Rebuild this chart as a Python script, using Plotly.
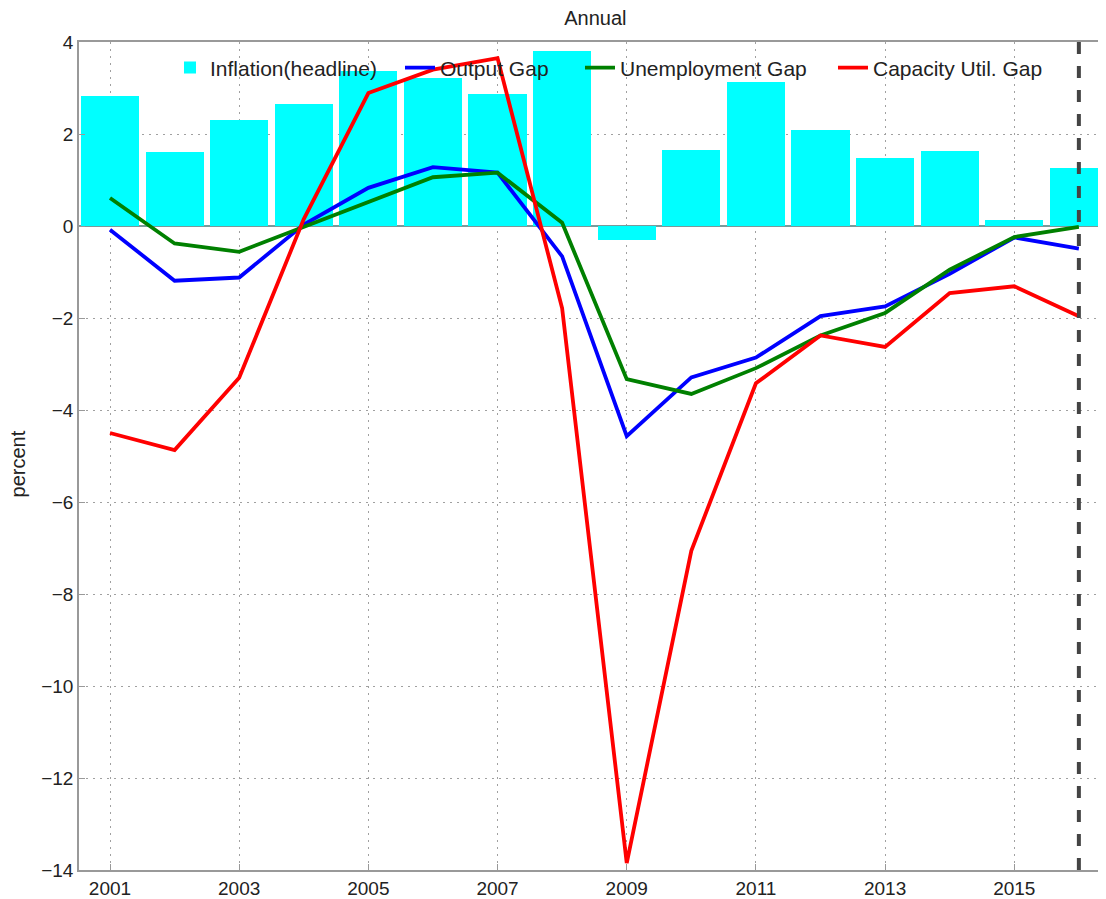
import plotly.graph_objects as go

years = list(range(2001, 2017))
inflation = [2.82, 1.61, 2.30, 2.66, 3.38, 3.22, 2.87, 3.81, -0.31, 1.65, 3.13, 2.08, 1.47, 1.62, 0.12, 1.27]
output_gap = [-0.08, -1.19, -1.12, 0.03, 0.83, 1.28, 1.16, -0.66, -4.57, -3.29, -2.86, -1.96, -1.75, -1.04, -0.25, -0.49]
unemp_gap = [0.61, -0.38, -0.56, -0.02, 0.51, 1.06, 1.16, 0.07, -3.33, -3.65, -3.09, -2.38, -1.89, -0.95, -0.24, -0.02]
capacity_gap = [-4.50, -4.87, -3.30, 0.15, 2.89, 3.40, 3.65, -1.79, -13.85, -7.06, -3.42, -2.38, -2.63, -1.46, -1.31, -1.96]
xticks = [2001, 2003, 2005, 2007, 2009, 2011, 2013, 2015]
yticks = [-14, -12, -10, -8, -6, -4, -2, 0, 2, 4]
ytick_labels = ["\u221214", "\u221212", "\u221210", "\u22128", "\u22126", "\u22124", "\u22122", "0", "2", "4"]
forecast_start = 2016

FONT = "Liberation Sans, Arial, sans-serif"
TXT = "#222222"

fig = go.Figure()
fig.add_trace(go.Bar(x=years, y=inflation, name="Inflation(headline)", width=0.9,
                     marker=dict(color="#00FFFF", line=dict(width=0)), legendwidth=185))
fig.add_trace(go.Scatter(x=years, y=output_gap, name="Output Gap", mode="lines",
                         line=dict(color="#0000FF", width=3.8), legendwidth=135))
fig.add_trace(go.Scatter(x=years, y=unemp_gap, name="Unemployment Gap", mode="lines",
                         line=dict(color="#008000", width=3.8), legendwidth=208))
fig.add_trace(go.Scatter(x=years, y=capacity_gap, name="Capacity Util. Gap", mode="lines",
                         line=dict(color="#FF0000", width=3.8), legendwidth=175))

fig.add_shape(type="line", x0=forecast_start, x1=forecast_start, y0=0, y1=1, yref="paper",
              line=dict(color="#444444", width=4, dash="dash"), layer="above")

fig.add_annotation(text="percent", textangle=-90, xref="paper", yref="paper",
                   x=-0.0594, y=0.491, xanchor="center", yanchor="middle", showarrow=False,
                   font=dict(size=20, family=FONT, color=TXT))

fig.update_layout(
    width=1098, height=891,
    margin=dict(l=71, r=0, t=34, b=26),
    paper_bgcolor="white", plot_bgcolor="white",
    font=dict(family=FONT, size=19, color=TXT),
    title=dict(text="Annual", x=0.535, xanchor="center", y=0.9888, yanchor="middle",
               font=dict(size=20, family=FONT, color=TXT)),
    showlegend=True,
    legend=dict(orientation="h", x=0.0886, y=0.9687, xanchor="left", yanchor="middle",
                bgcolor="rgba(0,0,0,0)", font=dict(size=21, family=FONT, color=TXT),
                tracegroupgap=0, borderwidth=0),
    bargap=0,
)
fig.update_xaxes(range=[2000.52, 2016.42], tickvals=xticks, ticktext=[str(v) for v in xticks],
                 showgrid=True, gridcolor="#a0a0a0", griddash="2px,5px", gridwidth=1,
                 showline=True, linecolor="#999999", linewidth=1.5, mirror=True,
                 ticks="inside", ticklen=6, tickcolor="#999999", zeroline=False,
                 tickfont=dict(size=19))
fig.update_yaxes(range=[-14, 4], tickvals=yticks, ticktext=ytick_labels,
                 showgrid=True, gridcolor="#a0a0a0", griddash="2px,5px", gridwidth=1,
                 showline=True, linecolor="#999999", linewidth=1.5, mirror=True,
                 ticks="inside", ticklen=6, tickcolor="#999999",
                 zeroline=True, zerolinecolor="#7a9a9a", zerolinewidth=1.5,
                 tickfont=dict(size=19), automargin=False)

fig.write_html("out.html")
